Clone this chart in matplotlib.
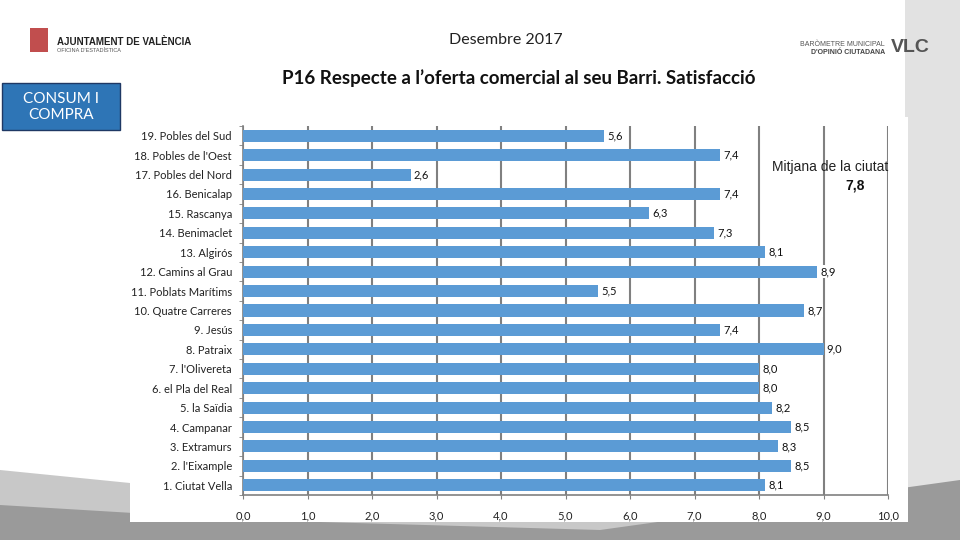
import matplotlib
matplotlib.use("Agg")
import matplotlib.pyplot as plt
from matplotlib.patches import Rectangle, Polygon
import numpy as np

plt.rcParams['font.family'] = ['Lato', 'DejaVu Sans']

categories = ["19. Pobles del Sud", "18. Pobles de l'Oest", "17. Pobles del Nord",
              "16. Benicalap", "15. Rascanya", "14. Benimaclet", "13. Algirós",
              "12. Camins al Grau", "11. Poblats Marítims", "10. Quatre Carreres",
              "9. Jesús", "8. Patraix", "7. l'Olivereta", "6. el Pla del Real",
              "5. la Saïdia", "4. Campanar", "3. Extramurs", "2. l'Eixample",
              "1. Ciutat Vella"]
values = [5.6, 7.4, 2.6, 7.4, 6.3, 7.3, 8.1, 8.9, 5.5, 8.7, 7.4, 9.0, 8.0, 8.0,
          8.2, 8.5, 8.3, 8.5, 8.1]
x_ticks = [0, 1, 2, 3, 4, 5, 6, 7, 8, 9, 10]
city_mean = 7.8

W, H = 960, 540
fig = plt.figure(figsize=(9.6, 5.4), dpi=100)
fig.patch.set_facecolor('white')

def fx(px):
    return px / W

def fy(py):
    return 1 - py / H

# background gray decoration (photo-like)
bg = fig.add_axes([0, 0, 1, 1], zorder=-10)
bg.set_xlim(0, W)
bg.set_ylim(H, 0)
bg.axis('off')
bg.add_patch(Polygon([[0, 470], [300, 500], [700, 505], [960, 420], [960, 540], [0, 540]],
                     closed=True, facecolor='#c8c8c8', edgecolor='none'))
bg.add_patch(Polygon([[905, 0], [960, 0], [960, 540], [905, 540]],
                     closed=True, facecolor='#e2e2e2', edgecolor='none'))
bg.add_patch(Polygon([[0, 505], [250, 520], [600, 530], [960, 480], [960, 540], [0, 540]],
                     closed=True, facecolor='#9a9a9a', edgecolor='none'))
# white chart panel
bg.add_patch(Rectangle((130, 117), 778, 405, facecolor='white', edgecolor='none'))

# CONSUM I COMPRA box
bg.add_patch(Rectangle((2, 83), 118, 47, facecolor='#2E75B6', edgecolor='#1F3864', lw=1))
bg.text(61, 107, "CONSUM I\nCOMPRA", color='white', ha='center', va='center',
        fontsize=11, linespacing=1.2)

# header logos as text
bg.text(57, 42, "AJUNTAMENT DE VALÈNCIA", fontsize=7, fontweight='bold',
        family=['Liberation Sans', 'DejaVu Sans'], va='center', ha='left', color='#222222')
bg.text(57, 51, "OFICINA D'ESTADÍSTICA", fontsize=4, va='center', ha='left', color='#555555',
        family=['Liberation Sans', 'DejaVu Sans'])
bg.add_patch(Rectangle((30, 28), 18, 24, facecolor='#b22222', edgecolor='none', alpha=0.8))
bg.text(885, 44, "BARÒMETRE MUNICIPAL", fontsize=5, ha='right', va='center', color='#555555',
        family=['Liberation Sans', 'DejaVu Sans'])
bg.text(885, 53, "D'OPINIÓ CIUTADANA", fontsize=5, ha='right', va='center', color='#444444',
        fontweight='bold', family=['Liberation Sans', 'DejaVu Sans'])
bg.text(910, 47, "VLC", fontsize=14, fontweight='bold', ha='center', va='center', color='#555555',
        family=['Liberation Sans', 'DejaVu Sans'])

# titles
bg.text(506, 40, "Desembre 2017", fontsize=11.5, ha='center', va='center', color='#222222')
bg.text(519, 78, "P16 Respecte a l’oferta comercial al seu Barri. Satisfacció", fontsize=13.5,
        fontweight='bold', ha='center', va='center', color='#111111')

# chart
ax = fig.add_axes([fx(243), fy(495), fx(888) - fx(243), fy(126) - fy(495)])
ax.patch.set_alpha(0)
y = np.arange(len(categories))
ax.barh(y, values, height=0.62, color='#5B9BD5', zorder=3)
ax.set_ylim(len(categories) - 0.5, -0.5)
ax.set_xlim(0, 10)
ax.set_xticks(x_ticks)
ax.set_xticklabels([f"{t:.1f}".replace('.', ',') for t in x_ticks], fontsize=8, color='#222222')
ax.set_yticks(y)
ax.set_yticklabels(categories, fontsize=8, color='#222222')
ax.set_yticks(np.arange(-0.5, len(categories), 1), minor=True)
ax.tick_params(axis='y', which='major', length=0, pad=8)
ax.tick_params(axis='y', which='minor', length=3, direction='out', color='#808080')
ax.tick_params(axis='x', length=3, direction='out', color='#808080', pad=8)
ax.grid(axis='x', color='#808080', lw=1.5, zorder=0)
for s in ['top', 'right']:
    ax.spines[s].set_visible(False)
for s in ['left', 'bottom']:
    ax.spines[s].set_color('#808080')
    ax.spines[s].set_linewidth(1.2)

for yi, v in zip(y, values):
    ax.text(v + 0.05, yi, f"{v:.1f}".replace('.', ','), va='center', ha='left',
            fontsize=8, color='#111111', zorder=4,
            bbox=dict(facecolor='white', edgecolor='none', pad=0.5))

bg2 = fig.add_axes([0, 0, 1, 1], zorder=10)
bg2.set_xlim(0, W)
bg2.set_ylim(H, 0)
bg2.axis('off')
bg2.text(830, 167, "Mitjana de la ciutat", fontsize=10, ha='center', va='center',
         color='#222222', family=['Liberation Sans', 'DejaVu Sans'])
bg2.text(855, 186, f"{city_mean:.1f}".replace('.', ','), fontsize=10, fontweight='bold',
         ha='center', va='center', color='#111111', family=['Liberation Sans', 'DejaVu Sans'])

fig.savefig("out.png", dpi=100)
